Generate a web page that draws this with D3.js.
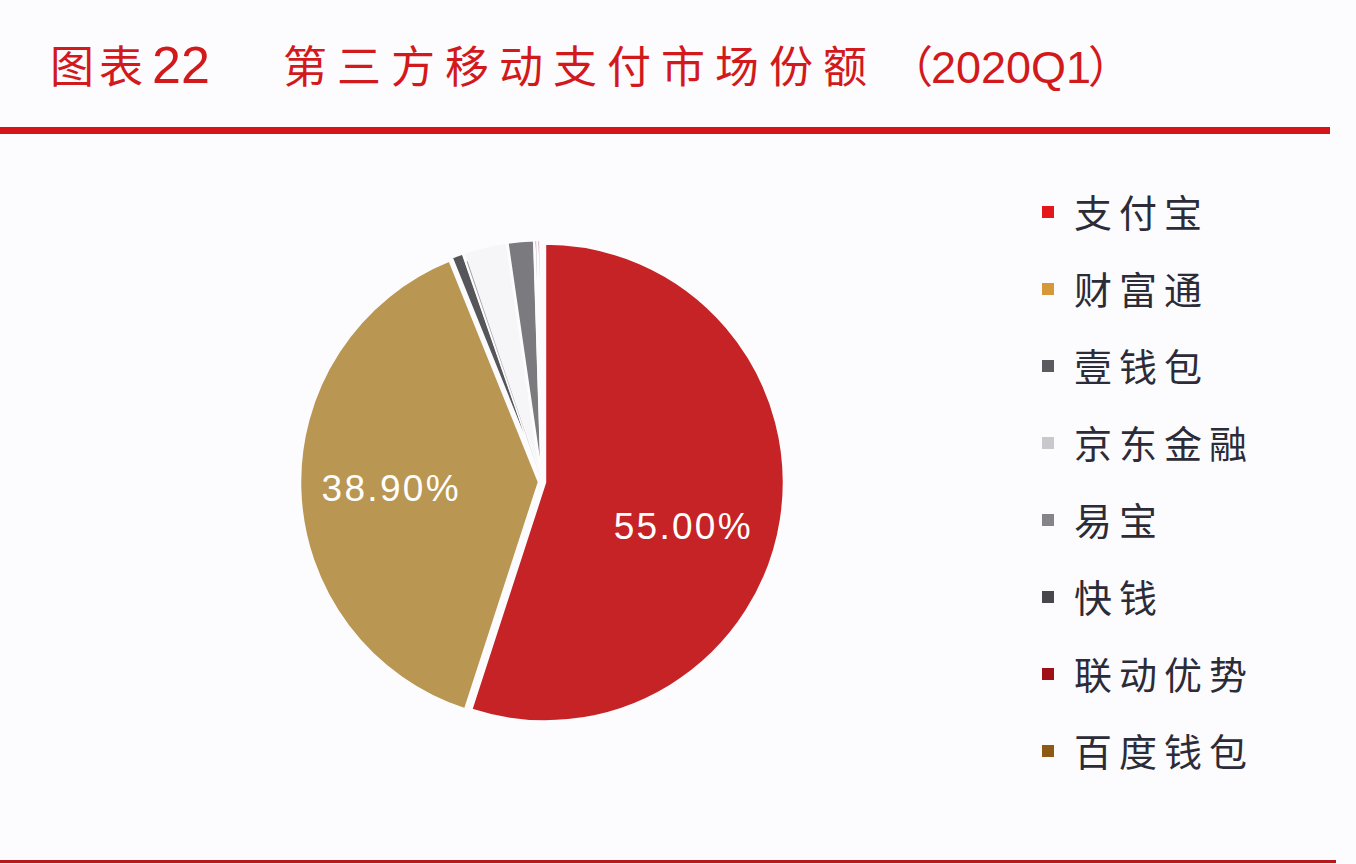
<html><head>
<meta charset="utf-8">
<title>第三方移动支付市场份额</title>
<script src="https://d3js.org/d3.v7.min.js" charset="utf-8"></script>
<style>
  body {
    margin: 0;
    background-color: #fcfcfe;
  }
  .title { fill: #d2191c; font-family: "Noto Sans CJK SC", sans-serif; }
  .legend text { fill: #2c2c38; font-family: "Noto Sans CJK SC", sans-serif; font-size: 38px; letter-spacing: 7px; }
  .pct { fill: #ffffff; font-family: "Liberation Sans", Arial, sans-serif; font-size: 37px; }
</style>
</head>
<body>
<div id="chart"></div>

<script>
// data
var companies = ["支付宝", "财富通", "壹钱包", "京东金融", "易宝", "快钱", "联动优势", "百度钱包"];
var shares = [55.0, 38.9, 0.8, 3.0, 1.8, 0.2, 0.2, 0.1];
var swatchColors = ["#e3161b", "#d6993a", "#5b5b5f", "#c9c9cd", "#858589", "#48484c", "#9e1015", "#8c5a12"];
var sliceColors = ["#c62327", "#b99652", "#56565a", "#f6f6f8", "#7b7b7f", "#48484c", "#9e1015", "#8c5a12"];
var shownLabels = ["55.00%", "38.90%"];

var W = 1356, H = 864;
var cx = 542, cy = 482, radius = 239, explode = 3;

var svg = d3.select("#chart").append("svg")
  .attr("width", W)
  .attr("height", H);

// title
var title = svg.append("text").attr("class", "title").attr("y", 83).style("font-size", "44px");
title.append("tspan").attr("x", 50).style("letter-spacing", "5px").text("图表");
title.append("tspan").attr("x", 152).style("font-family", "Liberation Sans, Arial, sans-serif").style("font-size", "52px").text("22");
title.append("tspan").attr("x", 283).style("letter-spacing", "10px").text("第三方移动支付市场份额");
title.append("tspan").attr("x", 889).text("（");
title.append("tspan").attr("x", 931).style("font-family", "Liberation Sans, Arial, sans-serif").style("font-size", "45px").text("2020Q1");
title.append("tspan").attr("x", 1088).text("）");

// red rules
svg.append("rect").attr("x", 0).attr("y", 127).attr("width", 1330).attr("height", 7).style("fill", "#d7141a");
svg.append("rect").attr("x", 0).attr("y", 860).attr("width", 1336).attr("height", 3).style("fill", "#b3191c");

// pie
var pie = d3.pie().sort(null).value(function(d) { return d; });
var arcs = pie(shares);

var arc = d3.arc().innerRadius(0).outerRadius(radius);
var labelArc = d3.arc().innerRadius(152).outerRadius(152);

var g = svg.append("g").attr("transform", "translate(" + cx + "," + cy + ")");

g.selectAll("path.slice")
  .data(arcs)
  .enter().append("path")
  .attr("class", "slice")
  .attr("d", arc)
  .attr("transform", function(d) {
    var a = (d.startAngle + d.endAngle) / 2;
    return "translate(" + (Math.sin(a) * explode) + "," + (-Math.cos(a) * explode) + ")";
  })
  .style("fill", function(d, i) { return sliceColors[i]; })
  .style("stroke", "#fcfcfe")
  .style("stroke-width", 2.5)
  .style("stroke-linejoin", "round");

// thin edge on the light slice
g.append("path")
  .attr("d", d3.arc().innerRadius(0).outerRadius(radius - 6).startAngle(arcs[3].startAngle + 0.004).endAngle(arcs[3].startAngle + 0.008))
  .style("fill", "#9a9a9e");

// the label on the right-hand slice sits a little lower than the centroid, like the source
g.selectAll("text.pct")
  .data(arcs.slice(0, shownLabels.length))
  .enter().append("text")
  .attr("class", "pct")
  .attr("transform", function(d) {
    var c = labelArc.centroid(d);
    var drop = c[0] > 0 ? 20 : 0;
    return "translate(" + (c[0] - drop / 2) + "," + (c[1] + drop) + ")";
  })
  .attr("text-anchor", "middle")
  .attr("dy", "0.36em")
  .attr("textLength", 137)
  .attr("lengthAdjust", "spacing")
  .text(function(d, i) { return shownLabels[i]; });

// legend
var legendY = d3.scalePoint().domain(companies).range([213, 752]);
var legend = svg.append("g").attr("class", "legend");
var rows = legend.selectAll("g")
  .data(companies)
  .enter().append("g")
  .attr("transform", function(d) { return "translate(1042," + legendY(d) + ")"; });

rows.append("rect")
  .attr("x", 0).attr("y", -7)
  .attr("width", 12).attr("height", 12)
  .style("fill", function(d, i) { return swatchColors[i]; });

rows.append("text")
  .attr("x", 32)
  .attr("dy", "0.36em")
  .text(function(d) { return d; });
</script>
</body></html>
